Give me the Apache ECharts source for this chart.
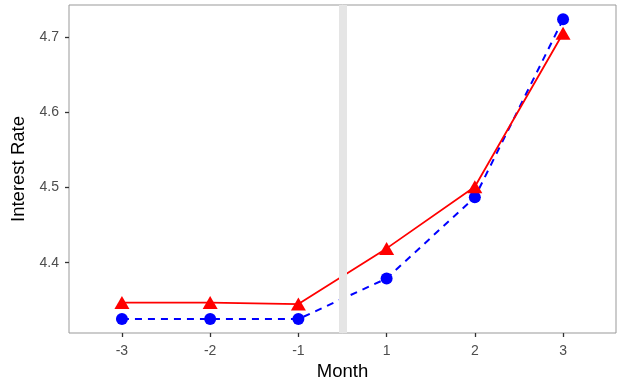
<!DOCTYPE html>
<html><head><meta charset="utf-8">
<script src="https://cdn.jsdelivr.net/npm/echarts@6/dist/echarts.min.js"></script>
<style>html,body{margin:0;padding:0;background:#fff}#c{width:618px;height:385px}</style>
</head><body><div id="c"></div>
<script>
const months = ['-3','-2','-1','1','2','3'];
const positions = [1,2,3,4,5,6];
const redValues = [4.347,4.347,4.345,4.419,4.501,4.705];
const blueValues = [4.325,4.325,4.325,4.379,4.487,4.7235];
const eventPosition = 3.5;
const yTicks = [4.4,4.5,4.6,4.7];

const chart = echarts.init(document.getElementById('c'));
const font = 'Liberation Sans, Arial, sans-serif';
chart.setOption({
  animation:false,
  grid:{left:69,right:2,top:5,bottom:52,containLabel:false,outerBoundsMode:'none',
    show:true,borderColor:'#999999',borderWidth:1,backgroundColor:'#fff'},
  xAxis:{type:'value',min:0.4,max:6.6,interval:1,
    name:'Month',nameLocation:'middle',nameGap:28,
    nameTextStyle:{fontFamily:font,fontSize:18.5,color:'#000'},
    axisLine:{show:false},splitLine:{show:false},
    axisTick:{show:true,length:4,lineStyle:{color:'#333',width:1.3},customValues:positions},
    axisLabel:{fontFamily:font,fontSize:14,color:'#4d4d4d',margin:11,customValues:positions,
      formatter:v=>months[positions.indexOf(v)] ?? ''}
  },
  yAxis:{type:'value',min:4.3065,max:4.7426,
    name:'Interest Rate',nameLocation:'middle',nameGap:41,nameMoveOverlap:false,
    nameTextStyle:{fontFamily:font,fontSize:18.5,color:'#000'},
    axisLine:{show:false},splitLine:{show:false},
    axisTick:{show:true,length:4,lineStyle:{color:'#333',width:1.3},customValues:yTicks},
    axisLabel:{fontFamily:font,fontSize:14,color:'#4d4d4d',margin:10,customValues:yTicks,
      formatter:v=>v.toFixed(1)}
  },
  series:[
    {type:'line',data:[],z:1,silent:true,
     markLine:{silent:true,symbol:'none',label:{show:false},
       lineStyle:{color:'#e5e5e5',width:8,type:'solid'},
       data:[{xAxis:eventPosition}]}},
    {type:'line',name:'blue',z:3,data:positions.map((p,i)=>[p,blueValues[i]]),
     symbol:'circle',symbolSize:12,showSymbol:true,
     itemStyle:{color:'#0000ff'},lineStyle:{color:'#0000ff',width:2,type:[7,6]}},
    {type:'line',name:'red',z:4,data:positions.map((p,i)=>[p,redValues[i]]),
     symbol:'triangle',symbolSize:[15,13],showSymbol:true,
     itemStyle:{color:'#ff0000'},lineStyle:{color:'#ff0000',width:1.8}}
  ]
});
</script></body></html>
